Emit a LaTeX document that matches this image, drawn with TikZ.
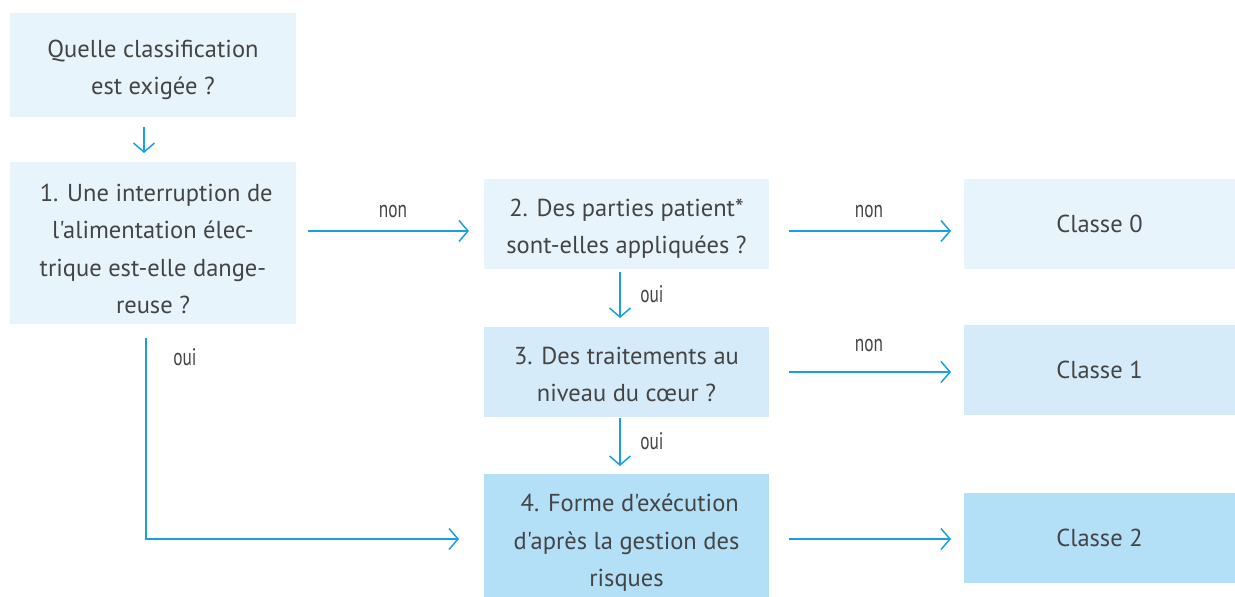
\documentclass[tikz,border=0pt]{standalone}
\usepackage{fontspec}
\setmainfont{PT Sans}[Ligatures=TeXOff]
\newfontfamily\condfont{PT Sans}[FakeStretch=0.72]
\usetikzlibrary{arrows.meta}
\definecolor{boxA}{HTML}{E8F4FC}
\definecolor{boxB}{HTML}{D5EBF9}
\definecolor{boxC}{HTML}{B3DFF7}
\definecolor{line}{HTML}{1A9FE0}
\definecolor{txt}{HTML}{444444}
\newcommand\tstr[1][30pt]{\rule{0pt}{#1}}
\newcommand\bstr{\rule[-8pt]{0pt}{8pt}}
\tikzset{
  box/.style={fill=#1, draw=none, text=txt, align=center, inner sep=0pt,
    font=\fontsize{24.5}{37.5}\selectfont},
  conn/.style={draw=line, line width=1.5pt, -{Straight Barb[length=9pt,width=21pt,line width=1.5pt]}},
  lab/.style={text=txt, font=\condfont\fontsize{24}{26}\selectfont, inner sep=0pt}
}
\begin{document}
\begin{tikzpicture}[x=1pt,y=-1pt]
\useasboundingbox (0,0) rectangle (1235,597);
% boxes
\node[box=boxA, minimum width=286pt, minimum height=104pt] (q) at (153,65) {\tstr Quelle classification\\est exigée ?\bstr};
\node[box=boxA, minimum width=286pt, minimum height=162pt] (b1) at (153,243) {\tstr[37pt] 1. Une interruption de\\l'alimentation élec-\\trique est-elle dange-\\reuse ?\bstr};
\node[box=boxA, minimum width=285pt, minimum height=90pt] (b2) at (626.5,224) {\tstr 2. Des parties patient*\\sont-elles appliquées ?\bstr};
\node[box=boxB, minimum width=285pt, minimum height=90pt] (b3) at (626.5,372) {\tstr 3. Des traitements au\\niveau du cœur ?\bstr};
\node[box=boxC, minimum width=285pt, minimum height=123pt] (b4) at (626.5,535.5) {\tstr[35pt] 4. Forme d'exécution\\d'après la gestion des\\risques\bstr};
\node[box=boxA, minimum width=271pt, minimum height=90pt] (c0) at (1099.5,224) {Classe 0};
\node[box=boxB, minimum width=271pt, minimum height=90pt] (c1) at (1099.5,370) {Classe 1};
\node[box=boxC, minimum width=271pt, minimum height=90pt] (c2) at (1099.5,538) {Classe 2};
% helper coordinates
\coordinate (qs) at (144,127);
\coordinate (qe) at (144,153);
\coordinate (a1s) at (308,231);
\coordinate (a1e) at (469,231);
\coordinate (a2s) at (789,231);
\coordinate (a2e) at (951,231);
\coordinate (a3s) at (789,372);
\coordinate (a3e) at (951,372);
\coordinate (a4s) at (789,539);
\coordinate (a4e) at (951,539);
\coordinate (v1s) at (620,272);
\coordinate (v1e) at (620,318);
\coordinate (v2s) at (620,418);
\coordinate (v2e) at (620,466);
\coordinate (ls) at (146,338);
\coordinate (lc) at (146,539);
\coordinate (le) at (459,539);
% connectors
\draw[conn] (qs) -- (qe);
\draw[conn] (a1s) -- (a1e);
\draw[conn] (a2s) -- (a2e);
\draw[conn] (a3s) -- (a3e);
\draw[conn] (a4s) -- (a4e);
\draw[conn] (v1s) -- (v1e);
\draw[conn] (v2s) -- (v2e);
\draw[conn] (ls) -- (lc) -- (le);
% labels
\node[lab] (l1) at (393,211) {non};
\node[lab] (l2) at (869,211) {non};
\node[lab] (l3) at (869,345) {non};
\node[lab] (l4) at (652,294) {oui};
\node[lab] (l5) at (652,441) {oui};
\node[lab] (l6) at (185,357) {oui};
\end{tikzpicture}
\end{document}
